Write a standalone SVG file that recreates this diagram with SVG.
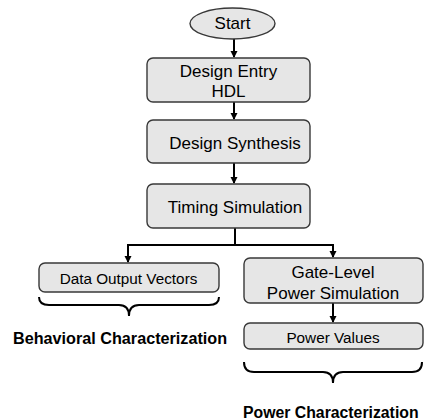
<svg xmlns="http://www.w3.org/2000/svg" width="424" height="420" viewBox="0 0 424 420">
<defs>
<marker id="ah" markerWidth="8" markerHeight="8" refX="6" refY="4" orient="auto" markerUnits="userSpaceOnUse">
<path d="M0,0.5 L7,4 L0,7.5 Z" fill="#000"/>
</marker>
<style>
.box{fill:#e6e6e6;stroke:#383838;stroke-width:1.4}
.t{font-family:"Liberation Sans",Arial,sans-serif;font-size:17px;fill:#000;text-anchor:middle;dominant-baseline:central}
.ts{font-size:15.3px}
.b{font-family:"Liberation Sans",Arial,sans-serif;font-size:16.2px;font-weight:bold;fill:#000}
.c{fill:none;stroke:#000;stroke-width:2}
</style>
</defs>
<rect width="424" height="420" fill="#fff"/>
<g id="connectors">
<line class="c" x1="234" y1="39" x2="234" y2="57" marker-end="url(#ah)"/>
<line class="c" x1="234" y1="102" x2="234" y2="119" marker-end="url(#ah)"/>
<line class="c" x1="234" y1="163" x2="234" y2="183" marker-end="url(#ah)"/>
<polyline class="c" points="235,228 235,245"/>
<polyline class="c" points="128,245 333,245"/>
<line class="c" x1="128" y1="244" x2="128" y2="262" marker-end="url(#ah)"/>
<line class="c" x1="333" y1="244" x2="333" y2="257" marker-end="url(#ah)"/>
<line class="c" x1="333" y1="303" x2="333" y2="322" marker-end="url(#ah)"/>
</g>
<g id="start">
<ellipse cx="232.5" cy="23.5" rx="42.5" ry="15.5" class="box"/>
<text class="t" x="232.5" y="23.5">Start</text>
</g>
<g id="design-entry">
<rect class="box" x="147" y="58" width="163" height="44" rx="6"/>
<text class="t" x="228.5" y="71">Design Entry</text>
<text class="t" x="228.5" y="91">HDL</text>
</g>
<g id="design-synthesis">
<rect class="box" x="147" y="120" width="163" height="43" rx="6"/>
<text class="t" x="235" y="143">Design Synthesis</text>
</g>
<g id="timing-simulation">
<rect class="box" x="147" y="184" width="163" height="44" rx="6"/>
<text class="t" x="235" y="207">Timing Simulation</text>
</g>
<g id="data-output-vectors">
<rect class="box" x="39" y="263" width="180" height="29" rx="6"/>
<text class="t ts" x="128.5" y="278">Data Output Vectors</text>
</g>
<g id="gate-level">
<rect class="box" x="244" y="258" width="179" height="45" rx="6"/>
<text class="t" x="333" y="272">Gate-Level</text>
<text class="t" x="333" y="293">Power Simulation</text>
</g>
<g id="power-values">
<rect class="box" x="244" y="323" width="179" height="26" rx="6"/>
<text class="t ts" x="333" y="337">Power Values</text>
</g>
<g id="behavioral-characterization">
<path class="c" d="M39,297 Q39,305 49,305 L119,305 Q129,305 129,316 Q129,305 139,305 L209,305 Q219,305 219,297"/>
<text class="b" x="13" y="344">Behavioral Characterization</text>
</g>
<g id="power-characterization">
<path class="c" d="M244,362 Q244,372 254,372 L323,372 Q333,372 333,383 Q333,372 343,372 L412,372 Q422,372 422,362"/>
<text class="b" x="243" y="418" style="font-size:15.8px">Power Characterization</text>
</g>
</svg>
